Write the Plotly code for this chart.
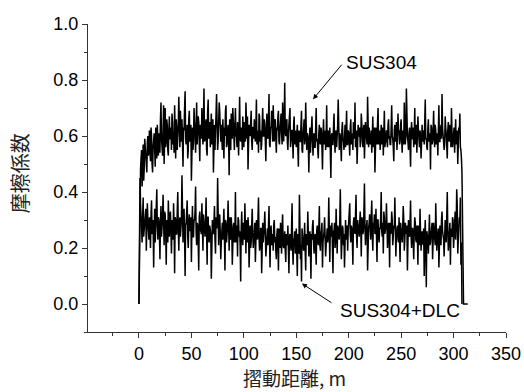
import plotly.graph_objects as go

# Sliding distance grid (m): readings at whole metres and at half metres
distance = list(range(0, 309))
distance_half = [d + 0.5 for d in range(0, 308)]

# SUS304 friction coefficient at x = 0 .. 308 m
sus304 = [
    0.00,
    0.45, 0.52, 0.42, 0.57, 0.48, 0.55, 0.50, 0.58, 0.53,
    0.62, 0.51, 0.60, 0.47, 0.58, 0.55, 0.63, 0.52, 0.57, 0.61,
    0.54, 0.72, 0.56, 0.62, 0.50, 0.70, 0.58, 0.64, 0.53, 0.67,
    0.59, 0.55, 0.65, 0.60, 0.71, 0.52, 0.63, 0.58, 0.74, 0.56,
    0.61, 0.66, 0.49, 0.62, 0.76, 0.57, 0.64, 0.55, 0.69, 0.60,
    0.44, 0.63, 0.58, 0.67, 0.54, 0.72, 0.60, 0.65, 0.51, 0.62,
    0.70, 0.57, 0.77, 0.59, 0.66, 0.53, 0.73, 0.61, 0.56, 0.68,
    0.62, 0.47, 0.64, 0.59, 0.75, 0.55, 0.63, 0.69, 0.58, 0.61,
    0.66, 0.52, 0.60, 0.71, 0.57, 0.64, 0.46, 0.62, 0.68, 0.59,
    0.63, 0.55, 0.70, 0.60, 0.65, 0.53, 0.74, 0.58, 0.62, 0.67,
    0.56, 0.61, 0.72, 0.59, 0.48, 0.64, 0.60, 0.69, 0.55, 0.63,
    0.66, 0.58, 0.73, 0.61, 0.54, 0.67, 0.62, 0.57, 0.70, 0.60,
    0.64, 0.51, 0.68, 0.59, 0.75, 0.56, 0.63, 0.60, 0.71, 0.58,
    0.66, 0.54, 0.62, 0.69, 0.57, 0.64, 0.61, 0.72, 0.58, 0.79,
    0.60, 0.66, 0.55, 0.63, 0.70, 0.58, 0.62, 0.52, 0.67, 0.60,
    0.56, 0.64, 0.49, 0.61, 0.58, 0.69, 0.54, 0.62, 0.57, 0.72,
    0.55, 0.60, 0.47, 0.63, 0.58, 0.67, 0.53, 0.61, 0.56, 0.70,
    0.59, 0.52, 0.64, 0.57, 0.62, 0.48, 0.66, 0.58, 0.55, 0.71,
    0.60, 0.56, 0.63, 0.45, 0.61, 0.57, 0.68, 0.54, 0.62, 0.59,
    0.73, 0.55, 0.60, 0.51, 0.65, 0.58, 0.62, 0.56, 0.69, 0.57,
    0.61, 0.53, 0.66, 0.59, 0.55, 0.63, 0.72, 0.58, 0.50, 0.64,
    0.60, 0.56, 0.68, 0.57, 0.62, 0.52, 0.65, 0.59, 0.74, 0.56,
    0.61, 0.58, 0.54, 0.67, 0.60, 0.47, 0.63, 0.57, 0.70, 0.59,
    0.55, 0.64, 0.61, 0.53, 0.69, 0.58, 0.62, 0.56, 0.66, 0.60,
    0.57, 0.71, 0.59, 0.51, 0.64, 0.60, 0.55, 0.68, 0.62, 0.58,
    0.66, 0.54, 0.61, 0.72, 0.57, 0.77, 0.60, 0.55, 0.63, 0.49,
    0.65, 0.59, 0.56, 0.70, 0.61, 0.54, 0.67, 0.58, 0.62, 0.52,
    0.64, 0.60, 0.57, 0.73, 0.59, 0.55, 0.66, 0.61, 0.48, 0.63,
    0.58, 0.69, 0.56, 0.62, 0.60, 0.53, 0.71, 0.58, 0.64, 0.75,
    0.59, 0.55, 0.67, 0.61, 0.52, 0.65, 0.58, 0.62, 0.70, 0.56,
    0.61, 0.54, 0.66, 0.59, 0.50, 0.63, 0.68, 0.55, 0.47,
]
# SUS304 friction coefficient at x = 0.5 .. 307.5 m
sus304_half = [
    0.30, 0.48, 0.55, 0.50, 0.44, 0.59, 0.52, 0.47, 0.60, 0.56,
    0.54, 0.63, 0.50, 0.56, 0.61, 0.49, 0.57, 0.64, 0.53, 0.58,
    0.66, 0.59, 0.53, 0.71, 0.61, 0.56, 0.66, 0.55, 0.62, 0.59,
    0.63, 0.68, 0.57, 0.54, 0.62, 0.66, 0.55, 0.64, 0.60, 0.69,
    0.58, 0.55, 0.63, 0.70, 0.59, 0.61, 0.52, 0.66, 0.58, 0.64,
    0.59, 0.55, 0.70, 0.60, 0.63, 0.57, 0.67, 0.56, 0.64, 0.59,
    0.62, 0.66, 0.58, 0.64, 0.55, 0.69, 0.59, 0.65, 0.62, 0.57,
    0.66, 0.60, 0.55, 0.68, 0.61, 0.58, 0.72, 0.60, 0.64, 0.55,
    0.59, 0.63, 0.69, 0.56, 0.62, 0.58, 0.66, 0.55, 0.61, 0.70,
    0.58, 0.64, 0.60, 0.56, 0.62, 0.67, 0.59, 0.63, 0.55, 0.61,
    0.65, 0.58, 0.62, 0.67, 0.57, 0.61, 0.66, 0.58, 0.63, 0.59,
    0.60, 0.64, 0.57, 0.62, 0.68, 0.58, 0.55, 0.64, 0.60, 0.66,
    0.58, 0.62, 0.60, 0.66, 0.57, 0.63, 0.69, 0.58, 0.61, 0.65,
    0.59, 0.63, 0.67, 0.58, 0.62, 0.68, 0.57, 0.64, 0.66, 0.61,
    0.65, 0.58, 0.61, 0.67, 0.56, 0.62, 0.59, 0.64, 0.57, 0.62,
    0.60, 0.56, 0.62, 0.58, 0.64, 0.55, 0.60, 0.66, 0.59, 0.56,
    0.61, 0.57, 0.59, 0.54, 0.62, 0.58, 0.60, 0.56, 0.63, 0.58,
    0.55, 0.61, 0.58, 0.63, 0.56, 0.60, 0.57, 0.62, 0.59, 0.56,
    0.62, 0.58, 0.55, 0.60, 0.57, 0.63, 0.59, 0.61, 0.56, 0.64,
    0.58, 0.61, 0.56, 0.62, 0.59, 0.55, 0.64, 0.60, 0.57, 0.62,
    0.58, 0.63, 0.57, 0.61, 0.65, 0.59, 0.56, 0.62, 0.58, 0.60,
    0.63, 0.58, 0.61, 0.56, 0.64, 0.59, 0.62, 0.57, 0.60, 0.63,
    0.57, 0.62, 0.59, 0.56, 0.63, 0.58, 0.61, 0.65, 0.57, 0.62,
    0.60, 0.57, 0.63, 0.59, 0.56, 0.62, 0.58, 0.64, 0.59, 0.57,
    0.63, 0.60, 0.56, 0.62, 0.58, 0.65, 0.59, 0.61, 0.57, 0.64,
    0.59, 0.62, 0.57, 0.64, 0.60, 0.63, 0.58, 0.61, 0.56, 0.62,
    0.59, 0.63, 0.60, 0.57, 0.64, 0.59, 0.62, 0.56, 0.60, 0.63,
    0.58, 0.62, 0.65, 0.59, 0.56, 0.63, 0.58, 0.61, 0.64, 0.57,
    0.62, 0.59, 0.64, 0.57, 0.61, 0.66, 0.58, 0.62, 0.59, 0.63,
    0.60, 0.57, 0.63, 0.58, 0.62, 0.59, 0.64, 0.56, 0.61, 0.58,
    0.63, 0.59, 0.57, 0.62, 0.58, 0.61, 0.56, 0.52,
]
# SUS304 record end (drop to zero)
sus304_tail_x = [309.5, 313.5]
sus304_tail_y = [0.00, 0.00]

# SUS304+DLC friction coefficient at x = 0 .. 308 m
dlc = [
    0.00,
    0.45, 0.30, 0.22, 0.38, 0.27, 0.33, 0.19, 0.36, 0.25,
    0.31, 0.20, 0.37, 0.26, 0.13, 0.34, 0.28, 0.41, 0.23, 0.30,
    0.16, 0.35, 0.27, 0.39, 0.21, 0.32, 0.14, 0.29, 0.37, 0.24,
    0.33, 0.18, 0.28, 0.36, 0.11, 0.30, 0.25, 0.40, 0.19, 0.31,
    0.26, 0.46, 0.22, 0.34, 0.10, 0.29, 0.37, 0.20, 0.32, 0.27,
    0.15, 0.35, 0.24, 0.30, 0.42, 0.21, 0.28, 0.12, 0.33, 0.26,
    0.36, 0.19, 0.29, 0.24, 0.38, 0.14, 0.31, 0.22, 0.27, 0.09,
    0.30, 0.25, 0.35, 0.18, 0.28, 0.45, 0.21, 0.32, 0.16, 0.27,
    0.23, 0.34, 0.12, 0.29, 0.25, 0.37, 0.19, 0.26, 0.31, 0.14,
    0.28, 0.22, 0.40, 0.24, 0.17, 0.30, 0.26, 0.08, 0.33, 0.21,
    0.27, 0.36, 0.18, 0.25, 0.31, 0.13, 0.28, 0.22, 0.34, 0.20,
    0.26, 0.15, 0.30, 0.23, 0.38, 0.19, 0.27, 0.11, 0.29, 0.24,
    0.33, 0.17, 0.25, 0.21, 0.35, 0.13, 0.28, 0.22, 0.19, 0.30,
    0.24, 0.16, 0.27, 0.12, 0.23, 0.29, 0.18, 0.32, 0.20, 0.26,
    0.15, 0.22, 0.28, 0.11, 0.25, 0.19, 0.36, 0.14, 0.23, 0.18,
    0.27, 0.10, 0.21, 0.39, 0.16, 0.08, 0.24, 0.19, 0.29, 0.12,
    0.22, 0.33, 0.17, 0.26, 0.09, 0.23, 0.30, 0.18, 0.25, 0.14,
    0.28, 0.21, 0.35, 0.19, 0.26, 0.13, 0.24, 0.31, 0.17, 0.27,
    0.22, 0.38, 0.15, 0.25, 0.29, 0.11, 0.26, 0.20, 0.34, 0.18,
    0.27, 0.23, 0.41, 0.16, 0.28, 0.21, 0.13, 0.30, 0.24, 0.19,
    0.29, 0.36, 0.22, 0.27, 0.14, 0.31, 0.25, 0.39, 0.20, 0.28,
    0.24, 0.33, 0.17, 0.30, 0.26, 0.43, 0.21, 0.29, 0.12, 0.27,
    0.32, 0.23, 0.37, 0.19, 0.28, 0.25, 0.34, 0.15, 0.30, 0.22,
    0.27, 0.40, 0.24, 0.18, 0.31, 0.26, 0.36, 0.20, 0.29, 0.13,
    0.25, 0.33, 0.21, 0.28, 0.38, 0.17, 0.26, 0.23, 0.31, 0.15,
    0.27, 0.22, 0.35, 0.19, 0.29, 0.25, 0.12, 0.30, 0.24, 0.37,
    0.20, 0.27, 0.16, 0.31, 0.23, 0.28, 0.14, 0.25, 0.34, 0.19,
    0.26, 0.21, 0.10, 0.30, 0.06, 0.24, 0.18, 0.32, 0.22, 0.27,
    0.16, 0.29, 0.23, 0.36, 0.19, 0.26, 0.13, 0.28, 0.21, 0.33,
    0.24, 0.17, 0.30, 0.22, 0.40, 0.19, 0.27, 0.14, 0.25, 0.31,
    0.20, 0.28, 0.23, 0.41, 0.18, 0.26, 0.30, 0.14, 0.00,
]
# SUS304+DLC friction coefficient at x = 0.5 .. 307.5 m
dlc_half = [
    0.20, 0.36, 0.28, 0.31, 0.24, 0.29, 0.34, 0.27, 0.30, 0.23,
    0.27, 0.32, 0.25, 0.30, 0.26, 0.22, 0.33, 0.28, 0.31, 0.25,
    0.29, 0.24, 0.31, 0.27, 0.33, 0.26, 0.30, 0.22, 0.29, 0.32,
    0.26, 0.30, 0.23, 0.28, 0.31, 0.25, 0.33, 0.27, 0.29, 0.24,
    0.30, 0.27, 0.32, 0.25, 0.28, 0.33, 0.24, 0.29, 0.26, 0.31,
    0.27, 0.24, 0.30, 0.33, 0.26, 0.29, 0.22, 0.31, 0.27, 0.25,
    0.28, 0.32, 0.24, 0.29, 0.26, 0.31, 0.23, 0.28, 0.25, 0.30,
    0.26, 0.29, 0.23, 0.31, 0.27, 0.24, 0.30, 0.26, 0.22, 0.29,
    0.27, 0.24, 0.30, 0.22, 0.28, 0.25, 0.31, 0.23, 0.27, 0.24,
    0.29, 0.25, 0.22, 0.28, 0.31, 0.24, 0.21, 0.27, 0.25, 0.29,
    0.23, 0.26, 0.30, 0.22, 0.27, 0.24, 0.20, 0.28, 0.25, 0.23,
    0.29, 0.22, 0.26, 0.31, 0.24, 0.21, 0.27, 0.25, 0.22, 0.28,
    0.24, 0.20, 0.27, 0.29, 0.23, 0.26, 0.21, 0.25, 0.28, 0.22,
    0.19, 0.25, 0.22, 0.27, 0.20, 0.24, 0.28, 0.21, 0.23, 0.19,
    0.25, 0.21, 0.18, 0.24, 0.22, 0.27, 0.20, 0.23, 0.26, 0.19,
    0.22, 0.25, 0.18, 0.24, 0.21, 0.27, 0.20, 0.23, 0.19, 0.25,
    0.21, 0.26, 0.23, 0.19, 0.25, 0.28, 0.22, 0.24, 0.20, 0.26,
    0.23, 0.27, 0.21, 0.25, 0.29, 0.22, 0.26, 0.24, 0.21, 0.27,
    0.25, 0.22, 0.28, 0.24, 0.20, 0.26, 0.29, 0.23, 0.25, 0.28,
    0.24, 0.30, 0.26, 0.22, 0.27, 0.25, 0.29, 0.23, 0.28, 0.26,
    0.31, 0.25, 0.28, 0.23, 0.29, 0.27, 0.32, 0.24, 0.30, 0.26,
    0.29, 0.27, 0.31, 0.25, 0.33, 0.28, 0.26, 0.30, 0.24, 0.29,
    0.27, 0.31, 0.25, 0.29, 0.32, 0.26, 0.28, 0.30, 0.24, 0.27,
    0.31, 0.26, 0.29, 0.33, 0.25, 0.28, 0.30, 0.24, 0.27, 0.29,
    0.26, 0.30, 0.24, 0.27, 0.31, 0.25, 0.28, 0.22, 0.26, 0.29,
    0.24, 0.27, 0.30, 0.23, 0.26, 0.28, 0.22, 0.25, 0.29, 0.24,
    0.27, 0.23, 0.26, 0.29, 0.22, 0.25, 0.28, 0.21, 0.26, 0.24,
    0.22, 0.27, 0.24, 0.20, 0.26, 0.23, 0.28, 0.21, 0.25, 0.29,
    0.23, 0.26, 0.21, 0.28, 0.24, 0.27, 0.22, 0.25, 0.30, 0.26,
    0.23, 0.28, 0.25, 0.31, 0.26, 0.22, 0.29, 0.27, 0.24, 0.30,
    0.26, 0.33, 0.28, 0.35, 0.24, 0.31, 0.38, 0.22,
]

x_ticks = [0, 50, 100, 150, 200, 250, 300, 350]
y_ticks = [0.0, 0.2, 0.4, 0.6, 0.8, 1.0]


def merge(whole_x, whole_y, half_x, half_y):
    """Order the whole-metre and half-metre readings by distance."""
    pts = sorted(zip(whole_x + half_x, whole_y + half_y))
    return [p[0] for p in pts], [p[1] for p in pts]


sus_x, sus_y = merge(distance, sus304, distance_half, sus304_half)
dlc_x, dlc_y = merge(distance, dlc, distance_half, dlc_half)

FONT = "Liberation Sans, Arial, sans-serif"
JFONT = "Noto Sans CJK JP, sans-serif"
AX = "#333333"

fig = go.Figure()
fig.add_trace(go.Scatter(x=sus_x + sus304_tail_x, y=sus_y + sus304_tail_y,
                         mode="lines", line=dict(color="black", width=1.5),
                         name="SUS304", showlegend=False))
fig.add_trace(go.Scatter(x=dlc_x, y=dlc_y,
                         mode="lines", line=dict(color="black", width=1.5),
                         name="SUS304+DLC", showlegend=False))

# Arrows and labels
fig.add_annotation(x=166, y=0.731, ax=194.5, ay=0.86, xref="x", yref="y",
                   axref="x", ayref="y", text="", showarrow=True,
                   arrowhead=2, arrowsize=1, arrowwidth=1, arrowcolor="black")
fig.add_annotation(x=195.5, y=0.864, xref="x", yref="y", text="SUS304",
                   showarrow=False, xanchor="left", yanchor="middle",
                   font=dict(family=FONT, size=19, color="black"))
fig.add_annotation(x=155.4, y=0.073, ax=185, ay=0.001, xref="x", yref="y",
                   axref="x", ayref="y", text="", showarrow=True,
                   arrowhead=2, arrowsize=1, arrowwidth=1, arrowcolor="black")
fig.add_annotation(x=189.5, y=-0.024, xref="x", yref="y", text="SUS304+DLC",
                   showarrow=False, xanchor="left", yanchor="middle",
                   font=dict(family=FONT, size=19, color="black"))

# Axis titles
fig.add_annotation(x=-0.163, y=0.515, xref="paper", yref="paper",
                   text="摩擦係数", textangle=-90, showarrow=False,
                   xanchor="center", yanchor="middle",
                   font=dict(family=JFONT, size=20, color="#222"))
fig.add_annotation(x=0.494, y=-0.148, xref="paper", yref="paper",
                   text="摺動距離, m", showarrow=False,
                   xanchor="center", yanchor="middle",
                   font=dict(family=JFONT, size=19, color="#222"))

fig.update_layout(
    width=524, height=392,
    margin=dict(l=88, r=18, t=24, b=60),
    plot_bgcolor="white", paper_bgcolor="white",
    font=dict(family=FONT, size=18, color="black"),
    xaxis=dict(range=[-48.6, 350], tickvals=x_ticks,
               ticktext=[str(v) for v in x_ticks], automargin=False,
               showline=True, linecolor=AX, linewidth=1.3,
               ticks="outside", ticklen=5, tickwidth=1.2, tickcolor=AX,
               minor=dict(dtick=25, tick0=0, ticks="outside", ticklen=3,
                          tickwidth=1, tickcolor=AX),
               showgrid=False, zeroline=False),
    yaxis=dict(range=[-0.1, 1.0], tickvals=y_ticks,
               ticktext=[f"{v:.1f}" for v in y_ticks], automargin=False,
               showline=True, linecolor=AX, linewidth=1.3,
               ticks="outside", ticklen=5, tickwidth=1.2, tickcolor=AX,
               minor=dict(dtick=0.1, tick0=0, ticks="outside", ticklen=3,
                          tickwidth=1, tickcolor=AX),
               showgrid=False, zeroline=False),
)

fig.write_html("out.html",
               config={"displayModeBar": False},
               post_script="document.body.style.margin='0';"
                           "document.body.style.overflow='hidden';")
